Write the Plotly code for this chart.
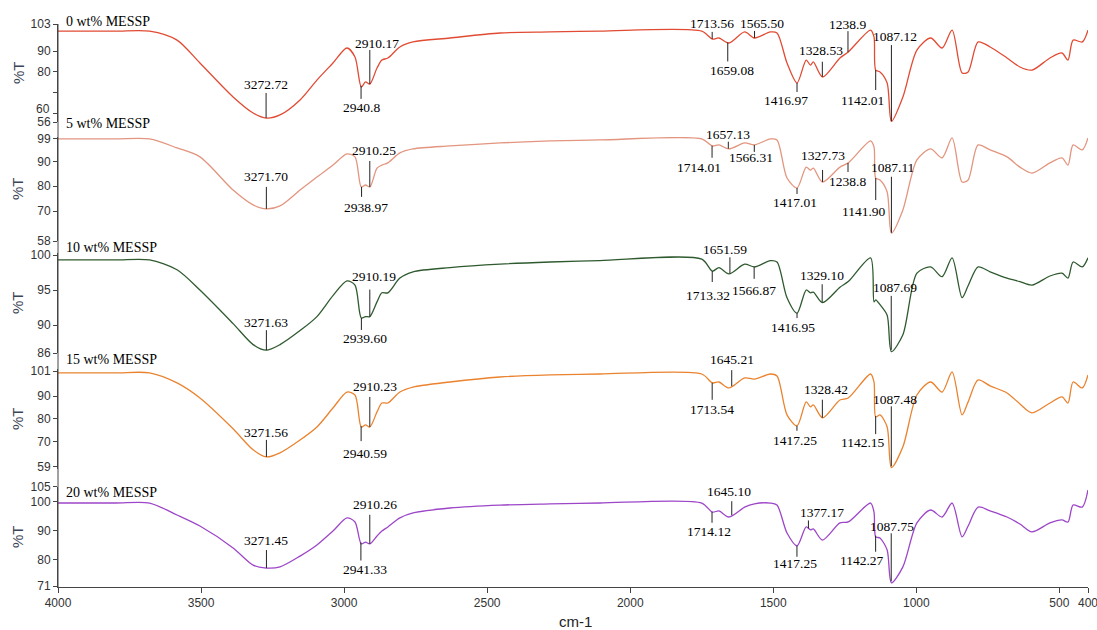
import numpy as np
import plotly.graph_objects as go

# Wavenumber grid (cm-1) shared by all spectra
wavenumber = [4000, 3800, 3680, 3584, 3504, 3388, 3318, 3272, 3224, 3154, 3095, 3039, 2990, 2962,
              2940, 2925, 2910, 2885, 2868, 2847, 2805, 2759, 2630, 2455, 2280, 2106, 1750,
              1713, 1690, 1655, 1600, 1566, 1510, 1487, 1452, 1417, 1385, 1370, 1360, 1328,
              1267, 1238, 1160, 1148, 1142, 1127, 1102, 1087, 1047, 998, 950, 910, 875, 840,
              819, 784, 742, 683, 638, 596, 533, 491, 470, 452, 420, 400]

# Transmittance (%T) of each film
t_0wt = [99.6, 99.6, 99.6, 95.3, 84.3, 68.0, 60.3, 57.9, 59.4, 66.6, 76.1, 84.3, 91.5, 87.2,
         72.8, 75.2, 74.2, 81.9, 85.7, 86.7, 92.0, 94.4, 96.3, 98.7, 99.2, 99.6, 99.6,
         95.8, 96.3, 93.9, 99.2, 96.3, 99.2, 98.7, 84.3, 74.7, 85.7, 83.3, 84.8, 77.6,
         86.7, 89.6, 100.1, 96.8, 80.9, 80.0, 74.7, 56.3, 68.0, 90.5, 96.3, 91.5, 100.1, 79.5,
         80.0, 94.4, 92.0, 86.7, 82.4, 80.9, 86.7, 89.1, 85.7, 95.3, 94.4, 100.1]
t_5wt = [99.0, 99.0, 99.0, 95.4, 91.8, 78.5, 72.5, 70.9, 72.1, 78.5, 83.7, 88.5, 93.0, 91.8,
         79.7, 80.5, 79.7, 87.3, 88.5, 89.4, 93.4, 95.0, 96.2, 97.4, 98.2, 98.6, 99.0,
         96.2, 96.6, 95.0, 97.4, 96.6, 99.0, 98.6, 83.3, 79.3, 87.7, 86.5, 87.3, 81.7,
         87.7, 89.4, 98.2, 95.8, 83.3, 82.5, 77.7, 61.2, 70.5, 90.6, 95.0, 91.4, 99.4, 81.7,
         82.5, 96.6, 94.6, 91.8, 87.7, 85.3, 89.4, 91.4, 88.5, 96.6, 94.6, 99.4]
t_10wt = [99.3, 99.3, 99.3, 97.9, 95.0, 90.2, 87.2, 86.4, 87.2, 89.2, 91.2, 94.2, 96.3, 95.7,
          91.0, 91.2, 91.2, 93.3, 94.6, 94.6, 96.7, 97.6, 98.2, 98.7, 99.0, 99.2, 99.4,
          97.7, 98.2, 97.3, 98.7, 98.3, 99.2, 99.0, 93.9, 91.7, 95.0, 94.6, 94.7, 93.2,
          95.4, 96.2, 99.6, 93.3, 93.6, 92.9, 91.4, 86.2, 88.6, 97.4, 98.3, 96.9, 99.6, 93.9,
          95.6, 98.3, 97.6, 96.7, 96.2, 95.7, 97.0, 97.4, 96.7, 99.0, 98.3, 99.6]
t_15wt = [100.2, 100.2, 100.2, 95.8, 89.2, 75.7, 66.5, 63.4, 65.2, 70.8, 76.5, 84.8, 91.8, 90.5,
          76.5, 77.4, 76.5, 83.1, 87.0, 87.0, 91.8, 94.0, 96.2, 98.4, 99.3, 99.7, 99.7,
          95.8, 96.2, 93.6, 98.0, 97.5, 99.7, 98.8, 81.8, 77.0, 87.5, 85.3, 86.2, 80.5,
          88.3, 89.2, 99.7, 96.2, 80.9, 81.8, 76.5, 58.7, 67.8, 90.5, 96.2, 91.8, 100.6, 81.8,
          87.5, 97.1, 94.5, 91.4, 86.6, 82.7, 87.0, 89.7, 87.0, 96.2, 93.6, 99.3]
t_20wt = [99.5, 99.5, 99.5, 95.4, 91.6, 84.1, 78.2, 77.2, 77.6, 81.3, 85.1, 89.9, 94.4, 93.0,
          85.5, 86.1, 85.5, 88.2, 89.9, 91.3, 94.4, 96.1, 97.8, 98.8, 99.2, 99.5, 99.5,
          96.4, 96.8, 94.7, 98.1, 99.2, 99.5, 98.8, 89.2, 84.8, 91.3, 90.3, 90.6, 86.8,
          92.7, 93.0, 99.5, 96.4, 87.9, 87.5, 83.4, 72.1, 77.6, 92.7, 97.1, 94.7, 99.5, 87.9,
          91.6, 98.1, 96.8, 94.7, 92.3, 89.6, 92.7, 93.7, 93.0, 98.8, 98.1, 104.0]

series_names = ["0 wt% MESSP", "5 wt% MESSP", "10 wt% MESSP", "15 wt% MESSP", "20 wt% MESSP"]
spectra = [t_0wt, t_5wt, t_10wt, t_15wt, t_20wt]

# Assigned band positions (cm-1) for each film
peaks_0wt = ["3272.72", "2940.8", "2910.17", "1713.56", "1659.08", "1565.50", "1416.97",
             "1328.53", "1238.9", "1142.01", "1087.12"]
peaks_5wt = ["3271.70", "2938.97", "2910.25", "1657.13", "1714.01", "1566.31", "1417.01",
             "1327.73", "1238.8", "1141.90", "1087.11"]
peaks_10wt = ["3271.63", "2939.60", "2910.19", "1651.59", "1713.32", "1566.87", "1416.95",
              "1329.10", "1087.69"]
peaks_15wt = ["3271.56", "2940.59", "2910.23", "1645.21", "1713.54", "1417.25", "1328.42",
              "1142.15", "1087.48"]
peaks_20wt = ["3271.45", "2941.33", "2910.26", "1645.10", "1714.12", "1417.25", "1377.17",
              "1142.27", "1087.75"]
peak_sets = [peaks_0wt, peaks_5wt, peaks_10wt, peaks_15wt, peaks_20wt]

# Axis ticks of each panel
y_tick_sets = [[103, 90, 80, 70, 60, 56], [99, 90, 80, 70, 58], [100, 95, 90, 86],
               [101, 90, 80, 70, 59], [105, 100, 90, 80, 71]]
x_ticks = [4000, 3500, 3000, 2500, 2000, 1500, 1000, 500, 400]

# ---- styling ----
colors = ["#e14b33", "#e2957f", "#2f5a2f", "#ea832f", "#9d46c8"]
y_ranges = [[56, 103], [58, 99.8], [86, 100.29], [58.1, 101.9], [70.7, 105]]
y_domains = [[0.8201, 0.9929], [0.6102, 0.7937], [0.4127, 0.5891], [0.2081, 0.3845], [0.0, 0.1764]]
name_y = [0.9982, 0.8183, 0.5979, 0.4004, 0.1675]

# (leader length px, text dx px, text dy px) per band label
label_offsets = [
    [(25, 0, 33), (-13, 0, -22), (34, 7, 41), (7, 0, 15), (-19, 4, -28), (7, 7, 14),
     (-9, -11, -18), (15, -1, 26), (21, 0, 28), (-20, -13, -30), (76, 4, 85)],
    [(22, 0, 32), (-10, 4, -21), (26, 4, 36), (7, 0, 14), (-12, -13, -22), (-7, -3, -13),
     (-6, -2, -15), (12, 0, 26), (-9, -1, -19), (-22, -12, -33), (56, 1, 65)],
    [(20, 0, 28), (-12, 4, -21), (27, 4, 40), (16, -5, 24), (-11, -4, -24), (-12, 0, -24),
     (-5, -4, -14), (18, 0, 27), (54, 4, 62)],
    [(17, 0, 24), (-15, 4, -27), (30, 5, 40), (16, 0, 27), (-17, 0, -27), (-5, -2, -15),
     (18, 4, 28), (-18, -13, -26), (60, 4, 67)],
    [(18, 0, 28), (-18, 4, -27), (29, 5, 39), (14, -3, 24), (-11, -3, -20), (-11, -2, -18),
     (8, 14, 16), (-16, -14, -25), (48, 1, 55)],
]

serif = "Liberation Serif, Times New Roman, serif"
sans = "Liberation Sans, Arial, sans-serif"
tick_font = dict(family=sans, size=12, color="#333")

fig = go.Figure()
layout = dict(
    width=1097, height=630,
    margin=dict(l=58, r=9, t=20, b=43, autoexpand=False),
    paper_bgcolor="white", plot_bgcolor="white",
    showlegend=False,
    xaxis=dict(range=[4000, 400], tickvals=x_ticks, ticks="outside", ticklen=5,
               tickcolor="#444", showline=True, linecolor="#444", linewidth=1,
               showgrid=False, zeroline=False, anchor="y5", ticklabeloverflow="allow",
               automargin=False, tickfont=tick_font),
)

shapes = []
annotations = []
wn_arr = np.array(wavenumber, dtype=float)
order = np.argsort(wn_arr)

for i in range(5):
    yname = "y" if i == 0 else f"y{i + 1}"
    lkey = "yaxis" if i == 0 else f"yaxis{i + 1}"
    ticks = y_tick_sets[i]
    # the 70 tick of the top panel is unlabeled; its 60 label is nudged up to clear "56"
    ticktext = [("" if (i == 0 and v in (70, 60)) else str(v)) for v in ticks]
    layout[lkey] = dict(domain=y_domains[i], range=y_ranges[i], anchor="x",
                        tickvals=ticks, ticktext=ticktext, ticks="outside", ticklen=4,
                        tickcolor="#444", showline=True, linecolor="#444", linewidth=1,
                        showgrid=False, zeroline=False, automargin=False, tickfont=tick_font)
    if i == 0:
        annotations.append(dict(xref="paper", yref=yname, x=0, y=60, xanchor="right",
                                yanchor="middle", xshift=-6, yshift=5, showarrow=False,
                                text="60", font=tick_font))

    fig.add_trace(go.Scatter(x=wavenumber, y=spectra[i], mode="lines", xaxis="x", yaxis=yname,
                             line=dict(color=colors[i], width=1.3, shape="spline", smoothing=0.8),
                             name=series_names[i], hoverinfo="x+y"))

    # sample name
    annotations.append(dict(xref="paper", yref="paper", x=0.006, y=name_y[i],
                            xanchor="left", yanchor="middle", showarrow=False,
                            text=series_names[i], font=dict(family=serif, size=14, color="black")))
    # %T axis title
    d0, d1 = y_domains[i]
    annotations.append(dict(xref="paper", yref="paper", x=-0.0388, y=(d0 + d1) / 2,
                            xanchor="center", yanchor="middle", showarrow=False, textangle=-90,
                            text="%T", font=dict(family=sans, size=15, color="#3a4656")))

    # band labels with leader lines
    t_arr = np.array(spectra[i], dtype=float)
    for label, (llen, dx, dy) in zip(peak_sets[i], label_offsets[i]):
        xv = float(label)
        yv = float(np.interp(xv, wn_arr[order], t_arr[order]))
        shapes.append(dict(type="line", xref="x", yref=yname, x0=xv, x1=xv,
                           ysizemode="pixel", yanchor=yv, y0=0, y1=llen,
                           line=dict(color="#222", width=1)))
        annotations.append(dict(xref="x", yref=yname, x=xv, y=yv, xshift=dx, yshift=dy,
                                xanchor="center", yanchor="middle", showarrow=False,
                                text=label, font=dict(family=serif, size=13.5, color="black")))

# continuous left axis spine across all panels
shapes.append(dict(type="line", xref="paper", yref="paper", x0=0, x1=0, y0=0, y1=0.9929,
                   line=dict(color="#444", width=1)))

# x-axis title
annotations.append(dict(xref="paper", yref="paper", x=0.502, y=-0.06, xanchor="center",
                        yanchor="middle", showarrow=False, text="cm-1",
                        font=dict(family=sans, size=15, color="#222")))

layout["shapes"] = shapes
layout["annotations"] = annotations
fig.update_layout(**layout)

fig.write_html("out.html")
